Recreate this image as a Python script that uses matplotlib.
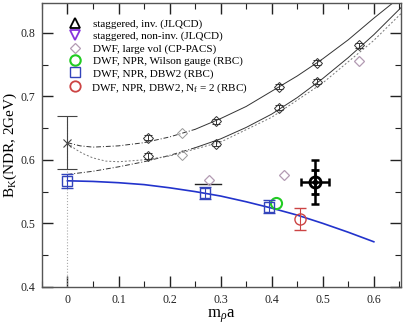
import matplotlib
matplotlib.use("Agg")
import matplotlib.pyplot as plt
from matplotlib.lines import Line2D
from matplotlib.ticker import MultipleLocator

plt.rcParams['font.family'] = ['Liberation Serif', 'DejaVu Serif']
plt.rcParams['mathtext.fontset'] = 'custom'
plt.rcParams['mathtext.rm'] = 'Liberation Serif'
plt.rcParams['mathtext.it'] = 'Liberation Serif:italic'

# fit curves
upper_x = [0.0, 0.025, 0.05, 0.1, 0.15, 0.2, 0.25, 0.3, 0.35, 0.4, 0.45, 0.5, 0.55, 0.6, 0.645]
upper_y = [0.627, 0.622, 0.620, 0.622, 0.627, 0.636, 0.648, 0.665, 0.684, 0.708, 0.732, 0.759, 0.789, 0.823, 0.852]
lower_x = [0.0, 0.05, 0.1, 0.15, 0.2, 0.25, 0.3, 0.35, 0.4, 0.45, 0.5, 0.55, 0.6, 0.66]
lower_y = [0.577, 0.582, 0.589, 0.597, 0.607, 0.619, 0.633, 0.651, 0.672, 0.698, 0.728, 0.761, 0.797, 0.845]
dotted_x = [0.0, 0.015, 0.03, 0.05, 0.075, 0.1, 0.15, 0.2, 0.3, 0.4, 0.5, 0.6, 0.653]
dotted_y = [0.627, 0.617, 0.610, 0.603, 0.598, 0.597, 0.600, 0.606, 0.628, 0.667, 0.721, 0.788, 0.830]
blue_fit_x = [0.0, 0.05, 0.1, 0.15, 0.2, 0.25, 0.3, 0.35, 0.4, 0.45, 0.5, 0.55, 0.6]
blue_fit_y = [0.567, 0.566, 0.564, 0.561, 0.556, 0.550, 0.543, 0.534, 0.524, 0.513, 0.500, 0.486, 0.471]

# staggered points on the curves
stag_x = [0.158, 0.291, 0.414, 0.489, 0.158, 0.291, 0.414, 0.489, 0.570]
stag_y = [0.635, 0.661, 0.715, 0.753, 0.606, 0.625, 0.682, 0.723, 0.780]
stag_err = [0.004, 0.004, 0.004, 0.004, 0.004, 0.004, 0.004, 0.004, 0.004]
faint_x = [0.224, 0.224]
faint_y = [0.643, 0.608]

# chiral limit staggered point
chiral_x = [0.0]
chiral_y = [0.627]
chiral_err = [0.042]

# CP-PACS
cp_x = [0.570, 0.277, 0.424]
cp_y = [0.756, 0.569, 0.576]

# RBC
dbw2_x = [0.0, 0.269, 0.394]
dbw2_y = [0.567, 0.548, 0.526]
dbw2_err = [0.011, 0.010, 0.010]
wil_x = [0.408]
wil_y = [0.532]
nf2_x = [0.455]
nf2_y = [0.507]
nf2_err = [0.017]

# final result
res_x = [0.485]
res_y = [0.565]
res_xerr = [0.027]
res_stat = [0.019]
res_tot = [0.035]

seg_x = [0.25, 0.30]
seg_y = [0.562, 0.562]

legend_labels = ['staggered, inv. (JLQCD)',
                 'staggered, non-inv. (JLQCD)',
                 'DWF, large vol (CP-PACS)',
                 'DWF, NPR, Wilson gauge (RBC)',
                 'DWF, NPR, DBW2 (RBC)',
                 'DWF, NPR, DBW2, N$_\\mathrm{f}$ = 2 (RBC)']

fig = plt.figure(figsize=(4.15, 3.26), dpi=100)
ax = fig.add_axes([0.101, 0.120, 0.865, 0.871])

ax.plot([0, 0], [0.4, 0.669], color='#aaaaaa', lw=0.8, ls=':')

ax.plot(upper_x[:7], upper_y[:7], color='#333333', lw=0.7, ls=(0, (5, 2, 1, 2)))
ax.plot(upper_x[6:], upper_y[6:], color='#333333', lw=0.7)
ax.plot(lower_x[:6], lower_y[:6], color='#333333', lw=0.7, ls=(0, (5, 2, 1, 2)))
ax.plot(lower_x[5:], lower_y[5:], color='#333333', lw=0.7)
ax.plot(dotted_x, dotted_y, color='#777777', lw=0.7, ls=(0, (2, 2)))
ax.plot(blue_fit_x, blue_fit_y, color='#2233cc', lw=1.2)

ax.errorbar(chiral_x, chiral_y, yerr=chiral_err, fmt='x', color='#444444',
            ms=6, mew=0.8, elinewidth=0.8, capsize=7)
ax.errorbar(stag_x, stag_y, yerr=stag_err, fmt='D', mfc='none', mec='#333333',
            ecolor='#333333', ms=5, mew=0.7, elinewidth=0.7, capsize=3)
ax.plot(faint_x, faint_y, 'D', mfc='none', mec='#999999', ms=5, mew=0.7)
ax.plot(seg_x, seg_y, color='#222222', lw=1.0)

ax.plot(cp_x, cp_y, 'D', mfc='none', mec='#b39bb3', ms=5, mew=0.9, ls='none')
ax.plot(wil_x, wil_y, 'o', mfc='none', mec='#22cc22', ms=8, mew=1.5, ls='none')
ax.errorbar(dbw2_x, dbw2_y, yerr=dbw2_err, fmt='s', mfc='none', mec='#3344bb',
            ecolor='#3344bb', ms=7, mew=1.0, elinewidth=0.8, capsize=4)
ax.errorbar(nf2_x, nf2_y, yerr=nf2_err, fmt='o', mfc='none', mec='#cc4444',
            ecolor='#cc4444', ms=8, mew=1.0, elinewidth=0.8, capsize=4)

ax.errorbar(res_x, res_y, yerr=res_tot, xerr=res_xerr, fmt='none',
            ecolor='black', elinewidth=1.8, capsize=3, capthick=1.8)
ax.errorbar(res_x, res_y, yerr=res_stat, fmt='o', mfc='none', mec='black',
            ecolor='black', ms=8, mew=2, elinewidth=1.8, capsize=3, capthick=1.8)
ax.plot(res_x, res_y, 'o', color='black', ms=3)

# legend symbols
handles = [
    Line2D([], [], marker='^', mfc='none', mec='black', ms=6.5, mew=1.3, ls='none'),
    Line2D([], [], marker='v', mfc='none', mec='#8833dd', ms=6.5, mew=1.3, ls='none'),
    Line2D([], [], marker='D', mfc='none', mec='#b39bb3', ms=5, mew=0.9, ls='none'),
    Line2D([], [], marker='o', mfc='none', mec='#22cc22', ms=7.5, mew=1.5, ls='none'),
    Line2D([], [], marker='s', mfc='none', mec='#3344bb', ms=6.5, mew=1.0, ls='none'),
    Line2D([], [], marker='o', mfc='none', mec='#cc4444', ms=7.5, mew=1.3, ls='none'),
]
leg = ax.legend(handles, legend_labels, loc='upper left', bbox_to_anchor=(0.055, 0.968),
                frameon=False, fontsize=8, handletextpad=1.0, labelspacing=0.22,
                handlelength=1.2, borderaxespad=0.2)
# mathtext label sits a little to the right, pull it back in line
leg.get_texts()[-1].set_x(-1.5)

ax.set_xlim(-0.05, 0.653)
ax.set_ylim(0.4, 0.847)
ax.xaxis.set_major_locator(MultipleLocator(0.1))
ax.xaxis.set_minor_locator(MultipleLocator(0.05))
ax.yaxis.set_major_locator(MultipleLocator(0.1))
ax.yaxis.set_minor_locator(MultipleLocator(0.05))
ax.tick_params(which='both', direction='in', top=True, right=True,
               labelsize=8.5, colors='#222222', pad=5)
ax.tick_params(which='major', length=8, width=1)
ax.tick_params(which='minor', length=4, width=0.8)
ax.set_xticks([0, 0.1, 0.2, 0.3, 0.4, 0.5, 0.6])
ax.set_xticklabels(['0', '0.1', '0.2', '0.3', '0.4', '0.5', '0.6'])
ax.set_yticks([0.4, 0.5, 0.6, 0.7, 0.8])
ax.set_yticklabels(['0.4', '0.5', '0.6', '0.7', '0.8'])
for s in ax.spines.values():
    s.set_color('#555555')
    s.set_linewidth(1.0)

ax.set_xlabel('m$_\\rho$a', fontsize=12, labelpad=1)
ax.set_ylabel('B$_\\mathrm{K}$(NDR, 2GeV)', fontsize=11, labelpad=1)

fig.savefig('out.png', dpi=100)
